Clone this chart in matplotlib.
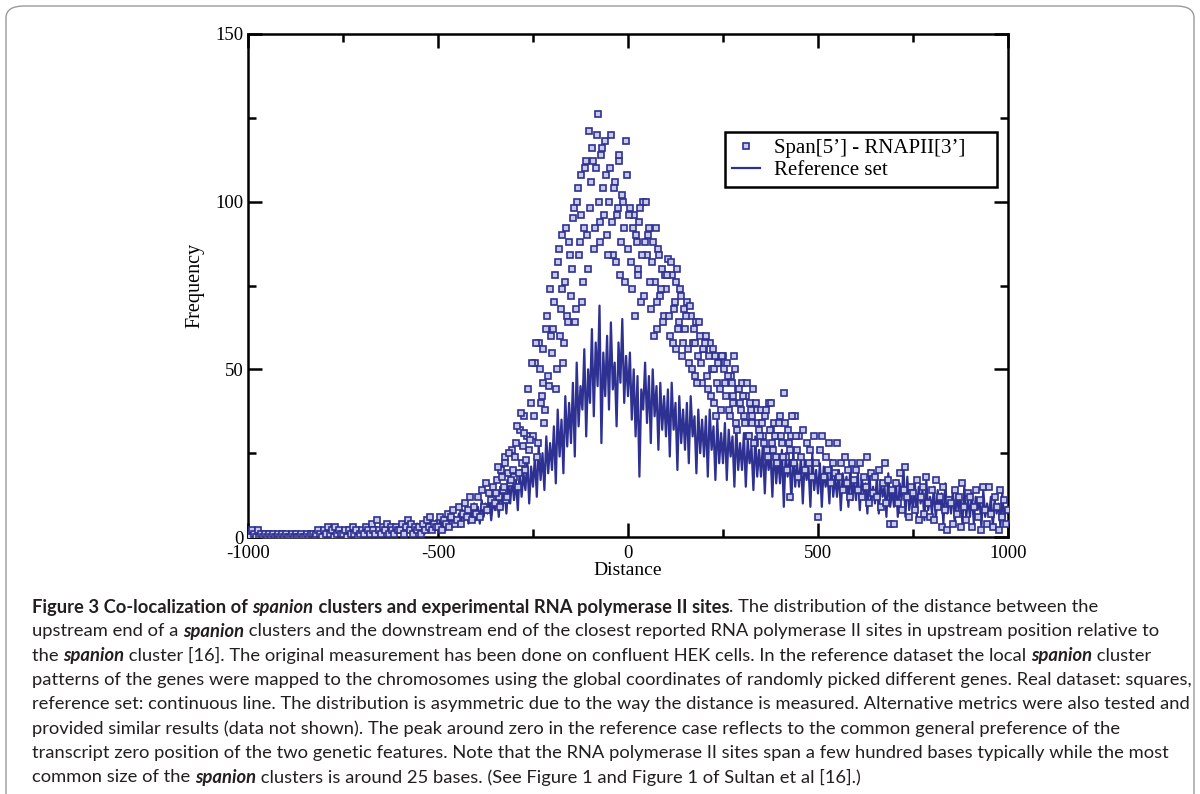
import numpy as np
import matplotlib.pyplot as plt
from matplotlib.patches import FancyBboxPatch
from matplotlib.ticker import MultipleLocator

plt.rcParams['axes.unicode_minus'] = False
BLUE = '#2e3192'

# real dataset (squares), x = -1000 .. 1000 step 5
span_x = np.arange(-1000, 1001, 5)
span_y = [
    1, 0, 2, 1, 0, 2, 0, 1, 0, 1,
    0, 1, 0, 1, 0, 0, 1, 0, 1, 0,
    1, 0, 0, 1, 0, 1, 0, 0, 1, 0,
    0, 1, 0, 1, 1, 0, 1, 2, 1, 0,
    2, 1, 3, 1, 2, 0, 3, 1, 2, 1,
    1, 2, 0, 2, 1, 3, 1, 2, 0, 1,
    2, 1, 3, 2, 1, 4, 2, 1, 5, 2,
    1, 3, 2, 4, 1, 3, 2, 1, 3, 2,
    2, 4, 1, 3, 5, 2, 4, 1, 3, 2,
    3, 1, 4, 2, 5, 3, 6, 2, 4, 3,
    3, 6, 2, 5, 4, 7, 3, 6, 8, 4,
    5, 9, 4, 7, 10, 6, 8, 12, 5, 9,
    7, 12, 6, 14, 9, 16, 8, 13, 11, 15,
    10, 17, 12, 20, 14, 24, 11, 19, 16, 26,
    18, 28, 15, 32, 22, 36, 20, 30, 26, 40,
    30, 52, 24, 58, 40, 46, 34, 62, 48, 74,
    55, 70, 44, 82, 60, 90, 52, 76, 66, 88,
    72, 95, 64, 100, 84, 108, 70, 92, 112, 80,
    98, 116, 86, 110, 126, 94, 114, 104, 118, 90,
    100, 120, 84, 106, 96, 112, 78, 102, 92, 118,
    86, 98, 74, 96, 90, 80, 94, 70, 100, 88,
    84, 92, 68, 88, 76, 62, 86, 72, 80, 66,
    74, 83, 60, 78, 68, 56, 80, 64, 72, 58,
    62, 70, 52, 66, 58, 48, 64, 54, 60, 46,
    56, 60, 44, 58, 50, 40, 54, 46, 52, 38,
    54, 46, 52, 38, 48, 42, 54, 34, 44, 40,
    46, 36, 42, 30, 40, 34, 44, 28, 38, 32,
    38, 30, 36, 26, 40, 32, 28, 34, 24, 30,
    36, 28, 43, 24, 32, 12, 30, 22, 36, 26,
    30, 24, 32, 20, 28, 22, 26, 18, 30, 22,
    6, 26, 30, 18, 24, 20, 28, 16, 22, 19,
    28, 18, 22, 14, 24, 16, 20, 12, 22, 17,
    20, 14, 22, 12, 18, 15, 24, 10, 19, 13,
    18, 12, 20, 9, 16, 22, 10, 17, 4, 14,
    4, 16, 10, 19, 8, 14, 21, 12, 6, 15,
    13, 8, 17, 5, 12, 15, 7, 18, 10, 6,
    14, 5, 17, 9, 12, 3, 15, 8, 2, 11,
    10, 4, 14, 7, 12, 3, 16, 9, 5, 13,
    12, 3, 9, 14, 6, 11, 2, 15, 8, 4,
    15, 7, 3, 12, 9, 2, 14, 6, 11, 4,
    8,
]

# extra squares in the dense central part, x = -347.5 .. 447.5 step 5
span_x2 = np.arange(-347.5, 450, 5)
span_y2 = [
    13, 21, 9, 18, 15, 22, 12, 25, 17, 20,
    24, 33, 19, 37, 27, 31, 23, 44, 29, 52,
    36, 58, 28, 50, 42, 56, 38, 66, 45, 60,
    62, 78, 50, 86, 68, 74, 58, 92, 64, 84,
    80, 98, 68, 104, 88, 96, 76, 110, 90, 121,
    106, 112, 92, 120, 100, 88, 116, 96, 108, 84,
    110, 94, 104, 82, 98, 114, 88, 100, 76, 108,
    96, 82, 92, 66, 88, 78, 98, 84, 72, 100,
    90, 76, 82, 60, 92, 70, 84, 74, 64, 78,
    78, 66, 82, 58, 70, 76, 62, 74, 54, 68,
    66, 56, 69, 50, 62, 58, 46, 64, 52, 56,
    58, 48, 54, 42, 56, 50, 36, 52, 44, 54,
    50, 42, 48, 36, 46, 40, 50, 32, 44, 38,
    42, 34, 46, 30, 38, 36, 28, 40, 34, 30,
    34, 28, 38, 24, 32, 40, 26, 30, 22, 34,
    30, 24, 34, 20, 28, 26, 36, 22, 30, 18,
]

# reference set (line), x = -1000 .. 1000 step 5
ref_x = np.arange(-1000, 1001, 5)
ref_y = [
    1, 0, 1, 1, 0, 1, 0, 1, 1, 0,
    0, 1, 1, 0, 1, 0, 1, 1, 0, 1,
    1, 0, 1, 0, 1, 1, 0, 1, 0, 1,
    1, 1, 0, 1, 1, 0, 1, 1, 2, 1,
    1, 2, 1, 0, 2, 1, 1, 2, 0, 1,
    2, 1, 2, 1, 0, 2, 1, 2, 1, 2,
    1, 2, 1, 3, 1, 2, 2, 1, 3, 1,
    2, 1, 3, 2, 1, 2, 3, 1, 2, 3,
    2, 3, 1, 3, 2, 4, 1, 3, 2, 4,
    3, 2, 4, 1, 3, 5, 2, 4, 3, 5,
    2, 5, 3, 6, 2, 5, 4, 7, 3, 6,
    4, 7, 3, 8, 5, 9, 4, 8, 6, 10,
    5, 9, 4, 11, 6, 10, 7, 12, 5, 11,
    8, 13, 6, 15, 9, 14, 7, 16, 10, 18,
    11, 17, 8, 20, 12, 19, 14, 23, 10, 21,
    15, 24, 12, 27, 17, 25, 14, 30, 19, 28,
    20, 33, 16, 38, 24, 35, 19, 42, 27, 40,
    28, 46, 24, 52, 33, 45, 38, 56, 30, 50,
    40, 62, 36, 58, 45, 69, 28, 55, 42, 60,
    38, 64, 44, 52, 33, 58, 46, 65, 40, 54,
    42, 55, 35, 50, 30, 48, 18, 44, 38, 52,
    34, 48, 28, 50, 36, 45, 26, 46, 32, 42,
    30, 44, 24, 46, 32, 40, 20, 42, 28, 38,
    26, 40, 22, 42, 30, 36, 19, 38, 25, 35,
    24, 36, 18, 38, 26, 33, 17, 35, 22, 31,
    22, 34, 17, 32, 24, 30, 15, 33, 20, 28,
    20, 31, 15, 29, 22, 27, 14, 30, 18, 26,
    18, 28, 13, 27, 20, 25, 12, 28, 16, 24,
    16, 26, 9, 25, 18, 23, 11, 26, 15, 22,
    15, 24, 10, 23, 17, 21, 9, 25, 14, 20,
    13, 22, 9, 21, 15, 19, 10, 23, 12, 18,
    12, 20, 8, 19, 14, 18, 9, 21, 11, 17,
    11, 19, 8, 18, 13, 16, 7, 20, 10, 15,
    10, 18, 7, 17, 12, 15, 6, 19, 9, 14,
    9, 17, 6, 16, 11, 21, 6, 18, 8, 13,
    8, 16, 6, 15, 10, 14, 5, 17, 8, 12,
    7, 15, 5, 14, 9, 13, 4, 16, 7, 12,
    7, 14, 4, 13, 8, 12, 4, 15, 6, 11,
    6, 13, 4, 12, 8, 11, 3, 14, 6, 10,
    6, 12, 3, 11, 7, 10, 3, 13, 5, 9,
    7,
]

# caption: list of lines, each a list of (text, weight, style)
caption = [
    [("Figure 3 Co-localization of ", "bold", "normal"), ("spanion", "bold", "italic"),
     (" clusters and experimental RNA polymerase II sites", "bold", "normal"),
     (". The distribution of the distance between the", "normal", "normal")],
    [("upstream end of a ", "normal", "normal"), ("spanion", "bold", "italic"),
     (" clusters and the downstream end of the closest reported RNA polymerase II sites in upstream position relative to", "normal", "normal")],
    [("the ", "normal", "normal"), ("spanion", "bold", "italic"),
     (" cluster [16]. The original measurement has been done on confluent HEK cells. In the reference dataset the local ", "normal", "normal"),
     ("spanion", "bold", "italic"), (" cluster", "normal", "normal")],
    [("patterns of the genes were mapped to the chromosomes using the global coordinates of randomly picked different genes. Real dataset: squares,", "normal", "normal")],
    [("reference set: continuous line. The distribution is asymmetric due to the way the distance is measured. Alternative metrics were also tested and", "normal", "normal")],
    [("provided similar results (data not shown). The peak around zero in the reference case reflects to the common general preference of the", "normal", "normal")],
    [("transcript zero position of the two genetic features. Note that the RNA polymerase II sites span a few hundred bases typically while the most", "normal", "normal")],
    [("common size of the ", "normal", "normal"), ("spanion", "bold", "italic"),
     (" clusters is around 25 bases. (See Figure 1 and Figure 1 of Sultan et al [16].)", "normal", "normal")],
]

W, H = 1200, 794
fig = plt.figure(figsize=(W / 100, H / 100), dpi=100)

# rounded frame around the whole figure
frame = FancyBboxPatch((6 / W, -0.05), 1188 / W, 1.05 - 6 / H,
                       boxstyle="round,pad=0,rounding_size=0.015",
                       transform=fig.transFigure, fill=False,
                       edgecolor='#9a9a9a', linewidth=1.0)
fig.patches.append(frame)

ax = fig.add_axes([248 / W, 1 - 537 / H, 760 / W, 503 / H])
serif = 'Liberation Serif'

ax.plot(ref_x, ref_y, color=BLUE, linewidth=1.6, label='Reference set', zorder=2)
ax.plot(span_x, span_y, linestyle='none', marker='s', markersize=3.9,
        markerfacecolor='#c9cbe6', markeredgecolor=BLUE, markeredgewidth=1.2,
        label='Span[5’] - RNAPII[3’]', zorder=3)
ax.plot(span_x2, span_y2, linestyle='none', marker='s', markersize=3.9,
        markerfacecolor='#c9cbe6', markeredgecolor=BLUE, markeredgewidth=1.2, zorder=3)

ax.set_xlim(-1000, 1000)
ax.set_ylim(0, 150)
ax.xaxis.set_major_locator(MultipleLocator(500))
ax.xaxis.set_minor_locator(MultipleLocator(250))
ax.yaxis.set_major_locator(MultipleLocator(50))
ax.yaxis.set_minor_locator(MultipleLocator(25))
ax.tick_params(which='both', direction='in', top=True, right=True, width=1.8,
               labelsize=13.5)
ax.tick_params(axis='x', pad=6)
ax.tick_params(axis='y', pad=3)
ax.tick_params(which='major', length=10)
ax.tick_params(which='minor', length=6)
for lab in ax.get_xticklabels() + ax.get_yticklabels():
    lab.set_fontfamily(serif)
for s in ax.spines.values():
    s.set_linewidth(1.8)

ax.set_xlabel('Distance', fontsize=14, family=serif, labelpad=0)
ax.set_ylabel('Frequency', fontsize=14.5, family=serif, labelpad=8)

# legend box stretched to the width it has in the original, text left-aligned
h, l = ax.get_legend_handles_labels()
leg = ax.legend(h[::-1], l[::-1], loc='upper left',
                bbox_to_anchor=(0.6276, 0.694, 0.358, 0.111), mode='expand',
                borderaxespad=0, prop={'family': serif, 'size': 15}, fancybox=False,
                edgecolor='black', framealpha=1, handlelength=1.35,
                borderpad=0.32, labelspacing=0.12, handletextpad=0.7)
leg.get_frame().set_linewidth(1.8)

# caption drawn piece by piece so bold/italic words sit inline
renderer = fig.canvas.get_renderer()
cap_font = 'Lato'


def piece_width(txt, size, wt, st):
    a = fig.text(0, 0, '|' + txt + '|', fontsize=size, family=cap_font, weight=wt, style=st)
    b = fig.text(0, 0, '||', fontsize=size, family=cap_font, weight=wt, style=st)
    w = a.get_window_extent(renderer).width - b.get_window_extent(renderer).width
    a.remove()
    b.remove()
    return w


# pick the size so the first line spans the caption width, without overflowing
widths = [sum(piece_width(t, 10, wt, st) for t, wt, st in line) for line in caption]
cap_size = min(10 * 1158 / widths[0], 10 * 1160 / max(widths))

x0 = 32
y_first, dy = 607, 24.3
for i, line in enumerate(caption):
    x = x0
    y = 1 - (y_first + i * dy) / H
    for txt, wt, st in line:
        fig.text(x / W, y, txt, fontsize=cap_size, family=cap_font, weight=wt,
                 style=st, color='#231f20', va='center', ha='left')
        x += piece_width(txt, cap_size, wt, st)

fig.savefig('out.png', dpi=100)
